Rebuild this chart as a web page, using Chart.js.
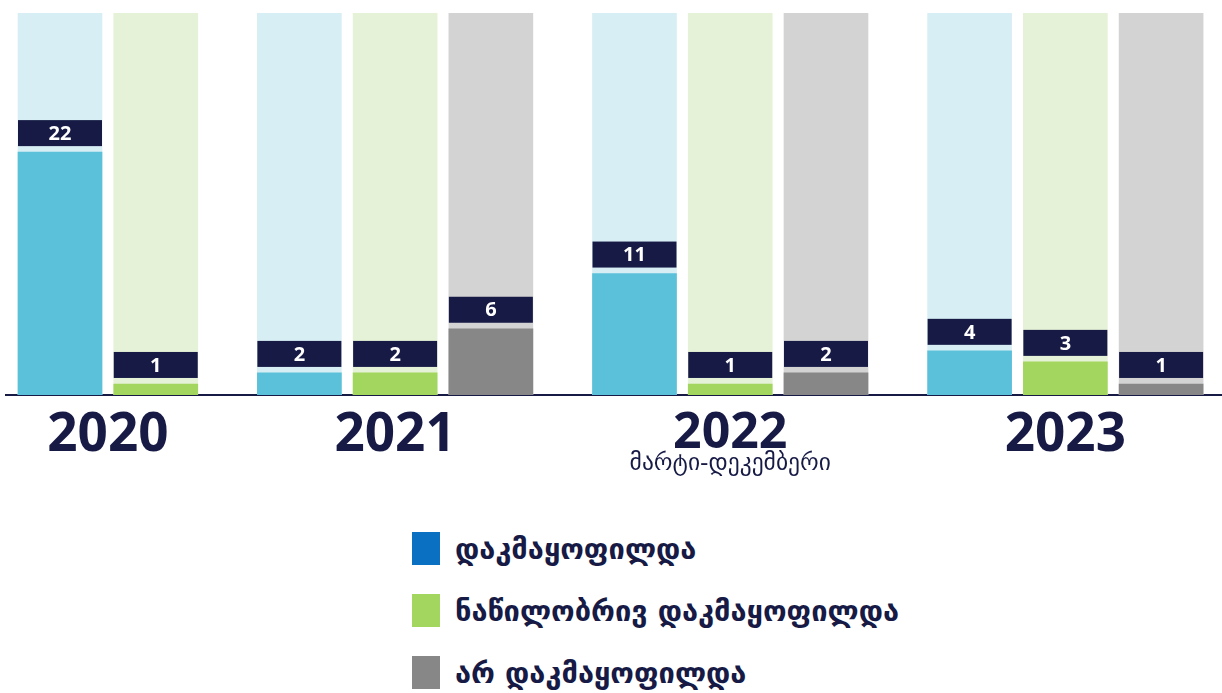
<!DOCTYPE html>
<html>
<head>
<meta charset="utf-8">
<script src="https://cdn.jsdelivr.net/npm/chart.js@4.4.0/dist/chart.umd.min.js"></script>
<style>
  html, body { margin: 0; padding: 0; background: #fff; }
  #wrap { position: relative; width: 1222px; height: 693px; overflow: hidden; }
  #chartBox { position: absolute; left: 0; top: 0; width: 1222px; height: 500px; }
  #legend {
    position: absolute; left: 412px; top: 532px;
    font-family: "DejaVu Sans", sans-serif; font-weight: bold; font-size: 29px; color: #161a45;
  }
  .item { display: flex; align-items: center; height: 33px; margin-bottom: 29px; }
  .swatch { width: 28px; height: 33px; margin-right: 15px; flex: none; }
</style>
</head>
<body>
<div id="wrap">
  <div id="chartBox"><canvas id="chart"></canvas></div>
  <div id="legend"></div>
</div>
<script>
// yearly counts per outcome
const years = ['2020', '2021', '2022', '2023'];
const yearNotes = ['', '', 'მარტი-დეკემბერი', ''];
const seriesNames = ['დაკმაყოფილდა', 'ნაწილობრივ დაკმაყოფილდა', 'არ დაკმაყოფილდა'];
const satisfied = [22, 2, 11, 4];
const partly = [1, 2, 1, 3];
const rejected = [null, 6, 2, 1];
const scaleMax = 34.6;

const fillColors = ['#5bc1da', '#a3d65f', '#878787'];
const trackColors = ['#d7eef4', '#e5f2d7', '#d3d3d3'];
const legendColors = ['#0a70c2', '#a3d65f', '#878787'];
const navy = '#161a45';

const series = [satisfied, partly, rejected];

// lay the bars out: one slot per bar, half a slot between years
const slots = [];
const groupCenters = [];
let cursor = 0;
years.forEach((yr, i) => {
  const row = [];
  series.forEach(vals => {
    if (vals[i] == null) { row.push(null); return; }
    row.push(cursor);
    cursor += 1;
  });
  const used = row.filter(v => v !== null);
  groupCenters.push((used[0] + used[used.length - 1]) / 2);
  slots.push(row);
  cursor += 0.5;
});

const fillSets = series.map((vals, s) => ({
  label: seriesNames[s],
  data: years.map((yr, i) => vals[i] == null ? null : { x: slots[i][s], y: vals[i] }).filter(Boolean),
  backgroundColor: fillColors[s],
  grouped: false,
  barThickness: 84,
  order: 0
}));

const trackSets = series.map((vals, s) => ({
  label: 'track' + s,
  data: years.map((yr, i) => vals[i] == null ? null : { x: slots[i][s], y: scaleMax }).filter(Boolean),
  backgroundColor: trackColors[s],
  grouped: false,
  barThickness: 84,
  order: 1
}));

// navy value tags sitting just above each filled bar
const valueTags = {
  id: 'valueTags',
  afterDatasetsDraw(chart) {
    const ctx = chart.ctx;
    ctx.save();
    ctx.font = 'bold 20px "Open Sans", sans-serif';
    ctx.textAlign = 'center';
    ctx.textBaseline = 'middle';
    fillSets.forEach((ds, d) => {
      const meta = chart.getDatasetMeta(d);
      meta.data.forEach((bar, j) => {
        const w = bar.width;
        const top = bar.y - 6 - 26;
        ctx.fillStyle = navy;
        ctx.fillRect(bar.x - w / 2, top, w, 26);
        ctx.fillStyle = '#ffffff';
        ctx.fillText(String(ds.data[j].y), bar.x, top + 14);
      });
    });
    ctx.restore();
  }
};

// small period note under a year label
const yearNote = {
  id: 'yearNote',
  afterDraw(chart) {
    const ctx = chart.ctx;
    const xs = chart.scales.x;
    ctx.save();
    ctx.font = '23.5px "DejaVu Sans", sans-serif';
    ctx.fillStyle = navy;
    ctx.textAlign = 'center';
    ctx.textBaseline = 'middle';
    yearNotes.forEach((note, i) => {
      if (note) ctx.fillText(note, xs.getPixelForValue(groupCenters[i]), 464);
    });
    ctx.restore();
  }
};

new Chart(document.getElementById('chart'), {
  type: 'bar',
  data: { datasets: [...fillSets, ...trackSets] },
  options: {
    responsive: true,
    maintainAspectRatio: false,
    animation: false,
    layout: { padding: { left: 6, right: 0, top: 13, bottom: 0 } },
    plugins: { legend: { display: false }, tooltip: { enabled: false } },
    scales: {
      x: {
        type: 'linear',
        offset: false,
        min: -0.564,
        max: 12.136,
        grid: { display: false, drawTicks: false },
        border: { display: true, color: navy, width: 2 },
        afterBuildTicks: scale => { scale.ticks = groupCenters.map(v => ({ value: v })); },
        afterFit: scale => { scale.height = 105; },
        ticks: {
          autoSkip: false,
          maxRotation: 0,
          padding: 14,
          color: navy,
          // a year with a note underneath gets a slightly smaller label
          font: ctx => ({
            family: '"Open Sans", sans-serif',
            size: yearNotes[ctx.index] ? 50 : 53,
            weight: 'bold',
            lineHeight: 1
          }),
          callback: value => years[groupCenters.indexOf(value)]
        }
      },
      y: {
        display: false,
        min: 0,
        max: scaleMax,
        stacked: false
      }
    }
  },
  plugins: [valueTags, yearNote]
});

// legend below the chart
const legend = document.getElementById('legend');
seriesNames.forEach((name, s) => {
  const item = document.createElement('div');
  item.className = 'item';
  const sw = document.createElement('span');
  sw.className = 'swatch';
  sw.style.background = legendColors[s];
  const txt = document.createElement('span');
  txt.textContent = name;
  item.appendChild(sw);
  item.appendChild(txt);
  legend.appendChild(item);
});
</script>
</body>
</html>
